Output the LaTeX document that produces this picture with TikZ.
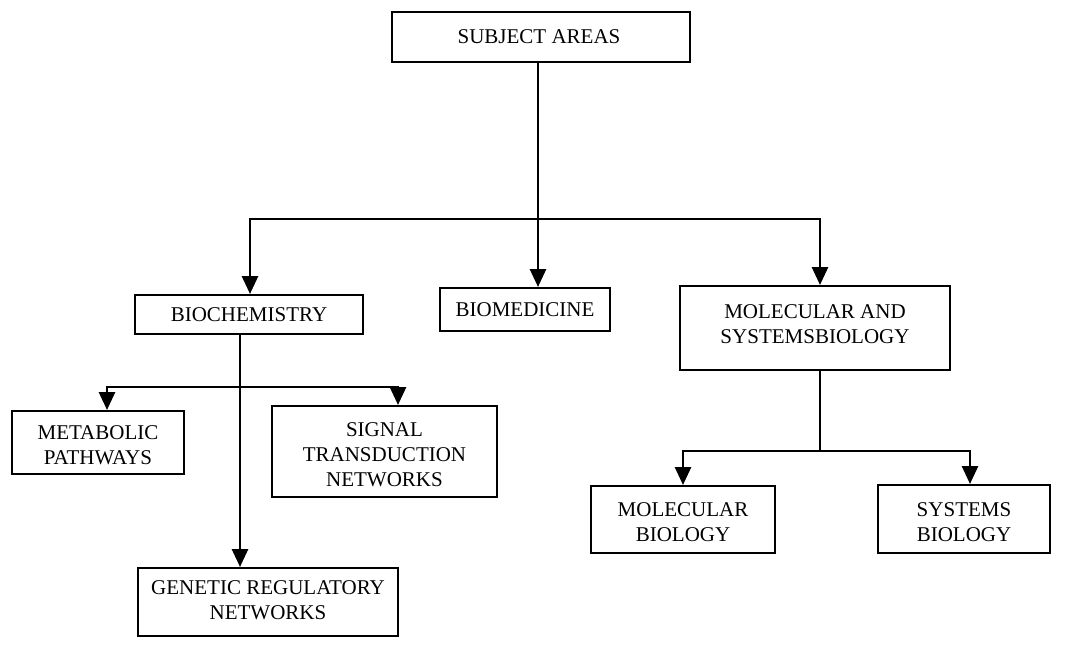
\documentclass[tikz,border=0pt]{standalone}
\usepackage{fontspec}
\setmainfont{Liberation Serif}
\usetikzlibrary{arrows.meta}
\begin{document}
\begin{tikzpicture}[x=1pt,y=-1pt,
  box/.style={draw=black, line width=2pt, rectangle, inner sep=0pt},
  lbl/.style={align=center, inner sep=0pt, font=\fontsize{21}{25}\selectfont},
  link/.style={line width=2.8pt, line cap=butt},
  thinlink/.style={line width=1.4pt},
  arr/.style={link, -{Triangle[width=16pt,length=18pt]}}]
\useasboundingbox (0,0) rectangle (1069,669);

% boxes
\node[box, minimum width=298pt, minimum height=50pt] (subj) at (541,37) {};
\node[lbl] at (539,37) {SUBJECT AREAS};

\node[box, minimum width=228pt, minimum height=39pt] (bio) at (249,314.5) {};
\node[lbl] at (249,315) {BIOCHEMISTRY};

\node[box, minimum width=170pt, minimum height=43pt] (med) at (525,309.5) {};
\node[lbl] at (525,310) {BIOMEDICINE};

\node[box, minimum width=270pt, minimum height=84pt] (mol) at (815,328) {};
\node[lbl] at (815,324) {MOLECULAR AND\\SYSTEMSBIOLOGY};

\node[box, minimum width=172pt, minimum height=63pt] (met) at (98,442.5) {};
\node[lbl] at (98,445) {METABOLIC\\PATHWAYS};

\node[box, minimum width=225pt, minimum height=91pt] (sig) at (384.5,451.5) {};
\node[lbl] at (384.5,455) {SIGNAL\\TRANSDUCTION\\NETWORKS};

\node[box, minimum width=260pt, minimum height=68pt] (gen) at (268,602) {};
\node[lbl] at (268,600) {GENETIC REGULATORY\\NETWORKS};

\node[box, minimum width=184pt, minimum height=67pt] (mb) at (683,519.5) {};
\node[lbl] at (683,522) {MOLECULAR\\BIOLOGY};

\node[box, minimum width=172pt, minimum height=68pt] (sb) at (964,519) {};
\node[lbl] at (964,522) {SYSTEMS\\BIOLOGY};

% branch points
\coordinate (t0) at (538,219);
\coordinate (t1) at (250,219);
\coordinate (t2) at (820,219);
\coordinate (b0) at (240,387);
\coordinate (b1) at (107,387);
\coordinate (b2) at (398,387);
\coordinate (r0) at (820,451);
\coordinate (r1) at (683,451);
\coordinate (r2) at (970,451);

% top level
\draw[arr] (subj.south -| t0) -- (t0 |- med.north);
\draw[link] ([xshift=-1.4pt]t1) -- ([xshift=1.4pt]t2);
\draw[arr] (t1) -- (t1 |- bio.north);
\draw[arr] (t2) -- (t2 |- mol.north);

% biochemistry subtree
\draw[arr] (bio.south -| b0) -- (b0 |- gen.north);
\draw[link] ([xshift=-1.4pt]b1) -- ([xshift=1.4pt]b2);
\draw[arr] (b1) -- (b1 |- met.north);
\draw[arr] (b2) -- (b2 |- sig.north);

% molecular and systems biology subtree
\draw[thinlink] (mol.south -| r0) -- (r0);
\draw[link] ([xshift=-1.4pt]r1) -- ([xshift=1.4pt]r2);
\draw[arr] (r1) -- (r1 |- mb.north);
\draw[arr] (r2) -- (r2 |- sb.north);
\end{tikzpicture}
\end{document}
